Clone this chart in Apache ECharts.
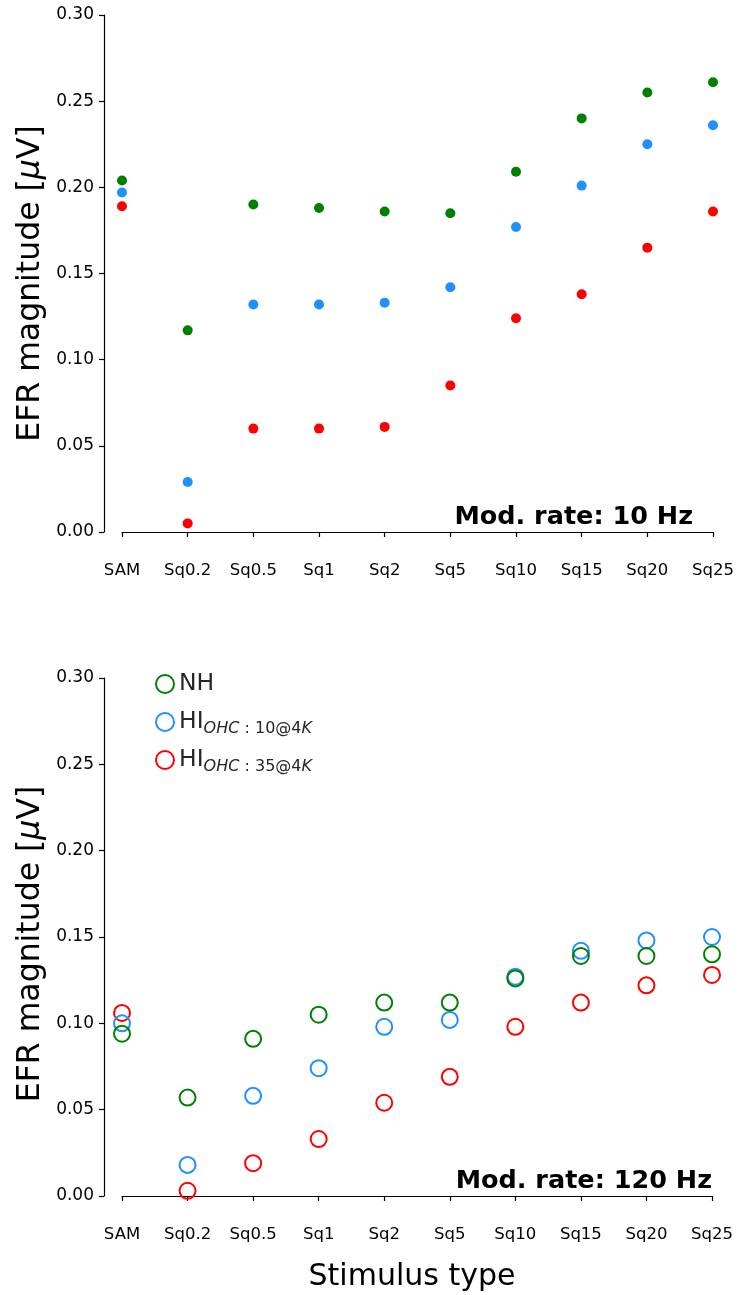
<!DOCTYPE html>
<html>
<head>
<meta charset="utf-8">
<script src="https://cdn.jsdelivr.net/npm/echarts@6/dist/echarts.min.js"></script>
<style>
  html, body { margin: 0; padding: 0; background: #fff; }
  #chart { width: 739px; height: 1295px; }
</style>
</head>
<body>
<div id="chart"></div>
<script>
const stimuli = ['SAM', 'Sq0.2', 'Sq0.5', 'Sq1', 'Sq2', 'Sq5', 'Sq10', 'Sq15', 'Sq20', 'Sq25']

// mod. rate 10 Hz
const nh10 = [0.204, 0.117, 0.190, 0.188, 0.186, 0.185, 0.209, 0.240, 0.255, 0.261]
const hi10_10 = [0.197, 0.029, 0.132, 0.132, 0.133, 0.142, 0.177, 0.201, 0.225, 0.236]
const hi35_10 = [0.189, 0.005, 0.060, 0.060, 0.061, 0.085, 0.124, 0.138, 0.165, 0.186]

// mod. rate 120 Hz
const nh120 = [0.094, 0.057, 0.091, 0.105, 0.112, 0.112, 0.126, 0.139, 0.139, 0.140]
const hi10_120 = [0.100, 0.018, 0.058, 0.074, 0.098, 0.102, 0.127, 0.142, 0.148, 0.150]
const hi35_120 = [0.106, 0.003, 0.019, 0.033, 0.054, 0.069, 0.098, 0.112, 0.122, 0.128]

const GREEN = '#008000'
const BLUE = '#1E90FF'
const RED = '#FF0000'
const FONT = 'DejaVu Sans'

const chart = echarts.init(document.getElementById('chart'))

function xAxisFor(gridIndex, withName) {
  return {
    type: 'category',
    gridIndex,
    data: stimuli,
    boundaryGap: false,
    offset: 20,
    axisLine: { lineStyle: { color: '#000', width: 1.2 } },
    axisTick: { alignWithLabel: true, length: 5, lineStyle: { color: '#000', width: 1.2 } },
    axisLabel: { color: '#000', fontSize: 16.5, fontFamily: FONT, margin: 10, interval: 0 },
    splitLine: { show: false },
    name: withName ? 'Stimulus type' : '',
    nameLocation: 'middle',
    nameGap: 46,
    nameMoveOverlap: false,
    nameTextStyle: { color: '#000', fontSize: 30, fontFamily: FONT, padding: [0, 10, 0, 0] },
  }
}

// shift pushes the rotated axis title downwards a little
function yAxisFor(gridIndex, shift) {
  return {
    type: 'value',
    gridIndex,
    min: 0,
    max: 0.3,
    interval: 0.05,
    offset: 18,
    axisLine: { show: true, lineStyle: { color: '#000', width: 1.2 } },
    axisTick: { show: true, length: 5, lineStyle: { color: '#000', width: 1.2 } },
    axisLabel: {
      color: '#000', fontSize: 17, fontFamily: FONT, margin: 10,
      formatter: (v) => v.toFixed(2),
    },
    splitLine: { show: false },
    name: 'EFR magnitude [{i|μ}V]',
    nameLocation: 'middle',
    nameGap: 57,
    nameMoveOverlap: false,
    nameTextStyle: {
      color: '#000', fontSize: 31.5, fontFamily: FONT, padding: [0, shift, 0, 0],
      rich: { i: { fontSize: 31.5, fontStyle: 'italic', fontFamily: FONT, color: '#000' } },
    },
  }
}

function dots(name, data, color, gi) {
  return {
    name, type: 'scatter', xAxisIndex: gi, yAxisIndex: gi, data,
    symbol: 'circle', symbolSize: 10,
    itemStyle: { color, opacity: 1 },
    silent: true,
  }
}

function rings(name, data, color, gi) {
  return {
    name, type: 'scatter', xAxisIndex: gi, yAxisIndex: gi, data,
    symbol: 'circle', symbolSize: 16,
    itemStyle: { color: 'rgba(0,0,0,0)', borderColor: color, borderWidth: 2, opacity: 1 },
    silent: true,
  }
}

const legendLabels = {
  NH: '{a|NH}',
  HI10: '{a|HI}{s|OHC}{n| : 10@4}{s|K}',
  HI35: '{a|HI}{s|OHC}{n| : 35@4}{s|K}',
}

function legendFor(name, top) {
  return {
    data: [name],
    left: 150,
    top,
    itemWidth: 18,
    itemHeight: 18,
    itemStyle: { borderWidth: 2 },
    formatter: (n) => legendLabels[n],
    textStyle: {
      color: '#262626', fontFamily: FONT,
      rich: {
        a: { fontSize: 23.5, lineHeight: 30, color: '#262626', fontFamily: FONT },
        s: { fontSize: 16, fontStyle: 'italic', lineHeight: 10, verticalAlign: 'bottom', color: '#262626', fontFamily: FONT },
        n: { fontSize: 16, lineHeight: 10, verticalAlign: 'bottom', color: '#262626', fontFamily: FONT },
      },
    },
  }
}

const option = {
  animation: false,
  textStyle: { fontFamily: FONT },
  grid: [
    { left: 122, right: 26, top: 15, height: 517, outerBoundsMode: 'none', containLabel: false },
    { left: 122, right: 27, top: 678, height: 518, outerBoundsMode: 'none', containLabel: false },
  ],
  xAxis: [xAxisFor(0, false), xAxisFor(1, true)],
  yAxis: [yAxisFor(0, 20), yAxisFor(1, 14)],
  title: [
    {
      text: 'Mod. rate: 10 Hz', right: 41, top: 499,
      textStyle: { fontSize: 25.5, fontWeight: 'bold', fontFamily: FONT, color: '#000' },
    },
    {
      text: 'Mod. rate: 120 Hz', right: 22, top: 1163,
      textStyle: { fontSize: 25.5, fontWeight: 'bold', fontFamily: FONT, color: '#000' },
    },
  ],
  legend: [
    legendFor('NH', 667),
    legendFor('HI10', 705),
    legendFor('HI35', 743),
  ],
  series: [
    dots('NH 10', nh10, GREEN, 0),
    dots('HI10 10', hi10_10, BLUE, 0),
    dots('HI35 10', hi35_10, RED, 0),
    rings('HI35', hi35_120, RED, 1),
    rings('HI10', hi10_120, BLUE, 1),
    rings('NH', nh120, GREEN, 1),
  ],
}

chart.setOption(option)
</script>
</body>
</html>
